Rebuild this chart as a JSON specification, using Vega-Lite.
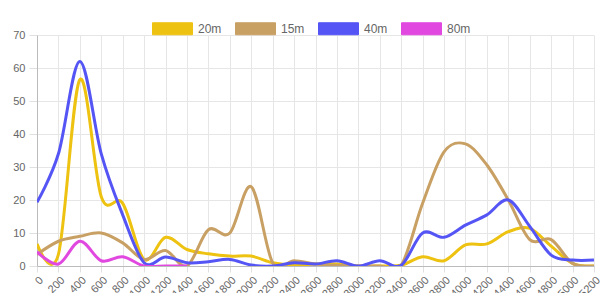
{
  "$schema": "https://vega.github.io/schema/vega-lite/v6.json",
  "width": 557,
  "height": 231,
  "autosize": {"type": "none"},
  "padding": {"left": 37, "top": 35, "right": 7, "bottom": 27},
  "background": "white",
  "config": {"view": {"stroke": null}, "font": "Liberation Sans"},
  "datasets": {
    "d": [
      {"x":0,"s":"20m","v":6.7},{"x":200,"s":"20m","v":3.5},{"x":400,"s":"20m","v":56.5},{"x":600,"s":"20m","v":21},{"x":800,"s":"20m","v":19},{"x":1000,"s":"20m","v":2},{"x":1200,"s":"20m","v":8.7},{"x":1400,"s":"20m","v":5},{"x":1600,"s":"20m","v":3.7},{"x":1800,"s":"20m","v":3},{"x":2000,"s":"20m","v":3},{"x":2200,"s":"20m","v":1},{"x":2400,"s":"20m","v":0.3},{"x":2600,"s":"20m","v":0.6},{"x":2800,"s":"20m","v":0.6},{"x":3000,"s":"20m","v":0},{"x":3200,"s":"20m","v":0},{"x":3400,"s":"20m","v":0.2},{"x":3600,"s":"20m","v":2.8},{"x":3800,"s":"20m","v":1.6},{"x":4000,"s":"20m","v":6.4},{"x":4200,"s":"20m","v":6.7},{"x":4400,"s":"20m","v":10.4},{"x":4600,"s":"20m","v":11.4},{"x":4800,"s":"20m","v":6},{"x":5000,"s":"20m","v":0.8},{"x":5200,"s":"20m","v":0},
      {"x":0,"s":"15m","v":3.5},{"x":200,"s":"15m","v":7.5},{"x":400,"s":"15m","v":9},{"x":600,"s":"15m","v":10},{"x":800,"s":"15m","v":7},{"x":1000,"s":"15m","v":2},{"x":1200,"s":"15m","v":4.7},{"x":1400,"s":"15m","v":0},{"x":1600,"s":"15m","v":11},{"x":1800,"s":"15m","v":10},{"x":2000,"s":"15m","v":24},{"x":2200,"s":"15m","v":1},{"x":2400,"s":"15m","v":1.6},{"x":2600,"s":"15m","v":0.6},{"x":2800,"s":"15m","v":0.2},{"x":3000,"s":"15m","v":0},{"x":3200,"s":"15m","v":0},{"x":3400,"s":"15m","v":0.2},{"x":3600,"s":"15m","v":19},{"x":3800,"s":"15m","v":34.6},{"x":4000,"s":"15m","v":37},{"x":4200,"s":"15m","v":30.6},{"x":4400,"s":"15m","v":20},{"x":4600,"s":"15m","v":8},{"x":4800,"s":"15m","v":8},{"x":5000,"s":"15m","v":0.8},{"x":5200,"s":"15m","v":0},
      {"x":0,"s":"40m","v":19.3},{"x":200,"s":"40m","v":34},{"x":400,"s":"40m","v":62},{"x":600,"s":"40m","v":34},{"x":800,"s":"40m","v":15.5},{"x":1000,"s":"40m","v":1},{"x":1200,"s":"40m","v":2.7},{"x":1400,"s":"40m","v":1},{"x":1600,"s":"40m","v":1.3},{"x":1800,"s":"40m","v":2},{"x":2000,"s":"40m","v":0.3},{"x":2200,"s":"40m","v":0},{"x":2400,"s":"40m","v":1},{"x":2600,"s":"40m","v":0.6},{"x":2800,"s":"40m","v":1.6},{"x":3000,"s":"40m","v":0},{"x":3200,"s":"40m","v":1.6},{"x":3400,"s":"40m","v":0.2},{"x":3600,"s":"40m","v":10},{"x":3800,"s":"40m","v":8.7},{"x":4000,"s":"40m","v":12.4},{"x":4200,"s":"40m","v":15.5},{"x":4400,"s":"40m","v":20},{"x":4600,"s":"40m","v":12},{"x":4800,"s":"40m","v":3.3},{"x":5000,"s":"40m","v":1.8},{"x":5200,"s":"40m","v":1.8},
      {"x":0,"s":"80m","v":4.3},{"x":200,"s":"80m","v":0.6},{"x":400,"s":"80m","v":7.5},{"x":600,"s":"80m","v":1.6},{"x":800,"s":"80m","v":2.8},{"x":1000,"s":"80m","v":0},{"x":1200,"s":"80m","v":0},{"x":1400,"s":"80m","v":0}
    ]
  },
  "data": {"name": "d"},
  "mark": {"type": "line", "interpolate": "cardinal", "tension": 0, "strokeWidth": 3, "clip": true},
  "encoding": {
    "x": {
      "field": "x", "type": "ordinal", "title": null,
      "scale": {"type": "point", "padding": 0},
      "axis": {"labelAngle": -45, "labelColor": "#666", "labelFontSize": 11, "tickColor": "#e0e0e0", "tickSize": 6, "domainColor": "#bbb", "grid": true, "gridColor": "#e6e6e6", "labelPadding": 2}
    },
    "y": {
      "field": "v", "type": "quantitative", "title": null,
      "scale": {"domain": [0, 70], "nice": false},
      "axis": {"values": [0,10,20,30,40,50,60,70], "labelColor": "#666", "labelFontSize": 11, "tickColor": "#e0e0e0", "tickSize": 8, "domainColor": "#bbb", "gridColor": "#e6e6e6", "labelPadding": 4}
    },
    "color": {
      "field": "s", "type": "nominal", "title": null,
      "scale": {"domain": ["20m","15m","40m","80m"], "range": ["#eec210","#c9a064","#5555f5","#e048e0"]},
      "sort": ["20m","15m","40m","80m"],
      "legend": {
        "orient": "none", "legendX": 115, "legendY": -27, "direction": "horizontal", "columns": 4,
        "symbolType": "M-1,-0.3H1V0.3H-1Z", "symbolSize": 1600, "symbolStrokeWidth": 1,
        "labelColor": "#666", "labelFontSize": 12, "labelOffset": 5, "columnPadding": 11,
        "encode": {"symbols": {"update": {"fill": {"scale": "color", "field": "value"}, "fillOpacity": {"value": 1}}}}
      }
    }
  }
}
